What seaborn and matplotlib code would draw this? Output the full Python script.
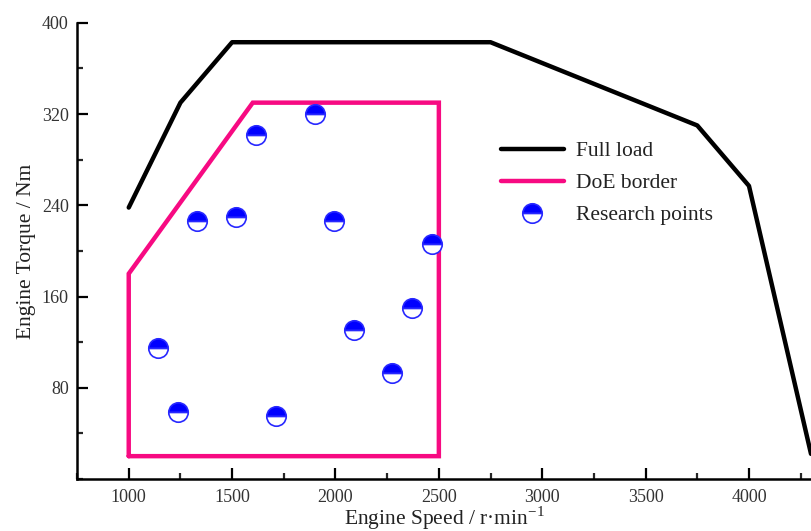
import matplotlib
matplotlib.use("Agg")
import matplotlib.pyplot as plt
import seaborn as sns
import pandas as pd
from matplotlib.ticker import MultipleLocator

# ---- data ----
full_speed = [1000, 1250, 1500, 2750, 3750, 4000, 4300]
full_torque = [238, 330, 383, 383, 310, 257, 22]

doe_speed = [1000, 1000, 1600, 2500, 2500, 1000]
doe_torque = [20, 180, 330, 330, 20, 20]

pts_speed = [1140, 1237, 1711, 1329, 1518, 1614, 1900, 1992, 2466, 2089, 2369, 2272]
pts_torque = [115, 59, 55, 226, 230, 302, 320, 226, 206, 131, 150, 93]

x_ticks = [1000, 1500, 2000, 2500, 3000, 3500, 4000]
y_ticks = [80, 160, 240, 320, 400]

sns.set_style("ticks")
plt.rcParams['font.family'] = ['Liberation Serif', 'DejaVu Serif']
plt.rcParams['mathtext.fontset'] = 'custom'
plt.rcParams['mathtext.rm'] = 'Liberation Serif'

fig = plt.figure(figsize=(8.11, 5.31), dpi=100)
ax = fig.add_axes([0.095, 0.098, 0.905, 0.859])

full_df = pd.DataFrame({"speed": full_speed, "torque": full_torque})
doe_df = pd.DataFrame({"speed": doe_speed, "torque": doe_torque})
pts_df = pd.DataFrame({"speed": pts_speed, "torque": pts_torque})

sns.lineplot(data=full_df, x="speed", y="torque", sort=False, estimator=None,
             color="black", linewidth=3.2, ax=ax, label="Full load",
             solid_joinstyle="round")
sns.lineplot(data=doe_df, x="speed", y="torque", sort=False, estimator=None,
             color="#F70A82", linewidth=3.2, ax=ax, label="DoE border",
             solid_joinstyle="miter")
sns.lineplot(data=pts_df, x="speed", y="torque", sort=False, estimator=None,
             linestyle="", marker="o", markersize=14, color="#0000FF",
             markerfacecolor="#0000FF", markerfacecoloralt="white",
             fillstyle="top", markeredgecolor="#2828FF", markeredgewidth=1.2,
             ax=ax, label="Research points")

ax.set_xlim(750, 4300)
ax.set_ylim(0, 400)
ax.set_xticks(x_ticks)
ax.set_yticks(y_ticks)
ax.xaxis.set_minor_locator(MultipleLocator(250))
ax.yaxis.set_minor_locator(MultipleLocator(40))
ax.tick_params(axis="both", which="major", direction="in", length=8, width=1.6,
               labelsize=13, colors="black", labelcolor="#333333")
ax.tick_params(axis="both", which="minor", direction="in", length=4.5, width=1.6)
ax.tick_params(axis="x", pad=7)
ax.tick_params(axis="y", pad=6)

for s in ["top", "right"]:
    ax.spines[s].set_visible(False)
for s in ["left", "bottom"]:
    ax.spines[s].set_linewidth(1.8)
    ax.spines[s].set_color("black")

ax.set_xlabel("Engine Speed / r·min$^{\\mathregular{-1}}$", fontsize=15.5, labelpad=-1, color="#222222")
ax.set_ylabel("Engine Torque / Nm", fontsize=15.5, labelpad=4, color="#222222")

leg = ax.legend(loc="upper left", bbox_to_anchor=(0.566, 0.759), frameon=False,
                fontsize=15.5, handlelength=2.9, handletextpad=0.6, labelspacing=0.55,
                borderaxespad=0)
for t in leg.get_texts():
    t.set_color("#222222")

fig.savefig("out.png", dpi=100)
